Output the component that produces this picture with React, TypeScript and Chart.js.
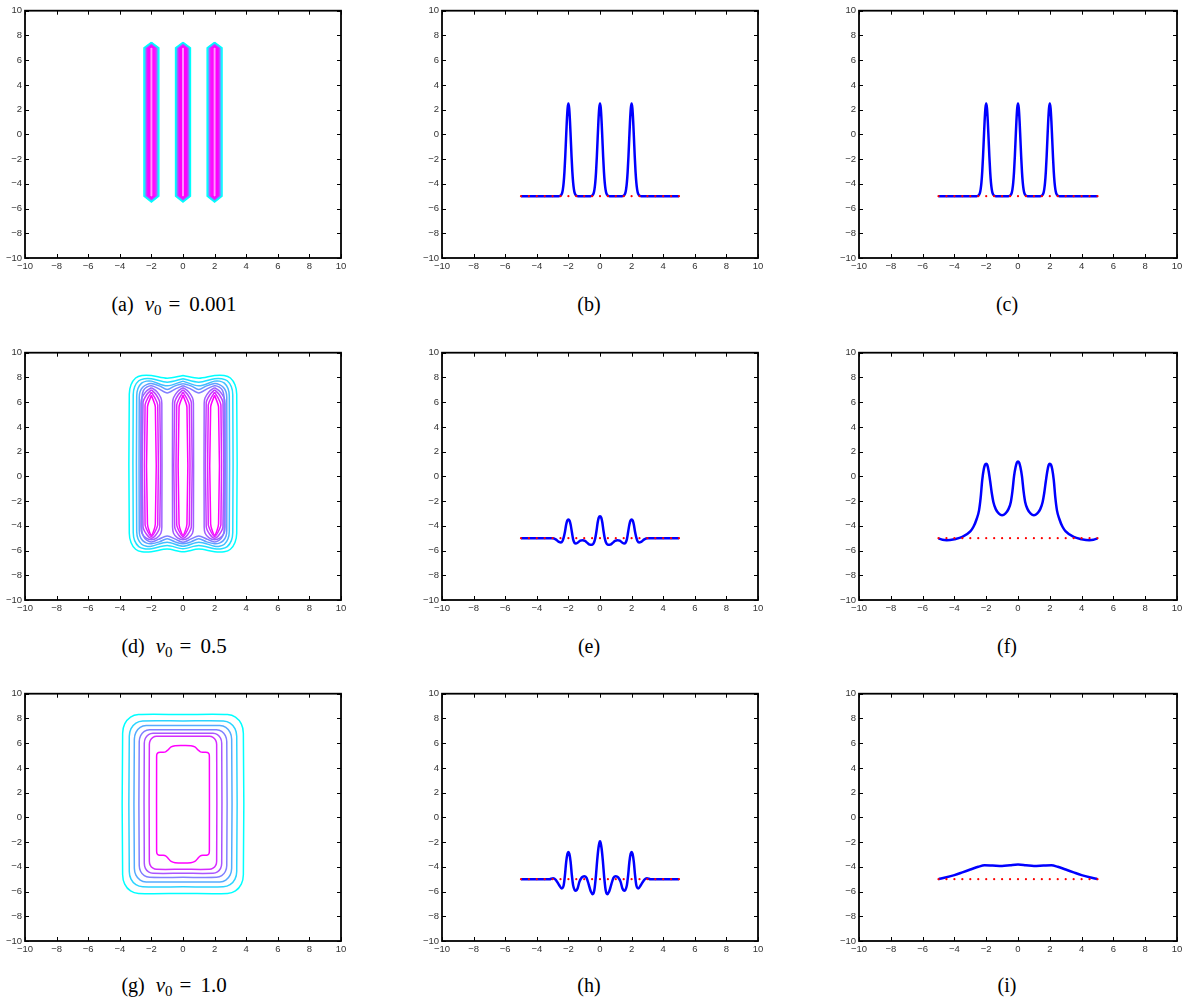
import React, { useEffect, useRef } from 'react';
import { Chart, registerables } from 'chart.js';

Chart.register(...registerables);

// ---------------- data ----------------
const axisMin = -10;
const axisMax = 10;
const axisStep = 2;

// red dotted reference line (markers at y = -5)
const redDotsX = [-5, -4.5, -4, -3.5, -3, -2.5, -2, -1.5, -1, -0.5, 0, 0.5, 1, 1.5, 2, 2.5, 3, 3.5, 4, 4.5, 5];
const redDotsLevel = -5;

// (b) and (c) profile
const bcX = [-5,
  -2.6, -2.5, -2.4, -2.35, -2.3, -2.25, -2.2, -2.15, -2.1, -2.05, -2, -1.95, -1.9, -1.85, -1.8, -1.75, -1.7, -1.65, -1.6, -1.5, -1.4,
  -0.6, -0.5, -0.4, -0.35, -0.3, -0.25, -0.2, -0.15, -0.1, -0.05, 0, 0.05, 0.1, 0.15, 0.2, 0.25, 0.3, 0.35, 0.4, 0.5, 0.6,
  1.4, 1.5, 1.6, 1.65, 1.7, 1.75, 1.8, 1.85, 1.9, 1.95, 2, 2.05, 2.1, 2.15, 2.2, 2.25, 2.3, 2.35, 2.4, 2.5, 2.6,
  5];
const bcY = [-5,
  -5, -4.96, -4.75, -4.45, -3.9, -3.03, -1.81, -0.36, 1.06, 2.11, 2.5, 2.11, 1.06, -0.36, -1.81, -3.03, -3.9, -4.45, -4.75, -4.96, -5,
  -5, -4.96, -4.75, -4.45, -3.9, -3.03, -1.81, -0.36, 1.06, 2.11, 2.5, 2.11, 1.06, -0.36, -1.81, -3.03, -3.9, -4.45, -4.75, -4.96, -5,
  -5, -4.96, -4.75, -4.45, -3.9, -3.03, -1.81, -0.36, 1.06, 2.11, 2.5, 2.11, 1.06, -0.36, -1.81, -3.03, -3.9, -4.45, -4.75, -4.96, -5,
  -5];

// (e) profile
const eX = [-5, -3.2, -3.0, -2.8, -2.6, -2.47, -2.38, -2.3, -2.22, -2.14, -2.07, -2.0, -1.93, -1.86, -1.78, -1.7, -1.6, -1.54, -1.4, -1.25, -1.1, -0.95, -0.8, -0.65, -0.49, -0.38, -0.3, -0.22, -0.15, -0.08,
  0,
  0.08, 0.15, 0.22, 0.3, 0.38, 0.49, 0.65, 0.8, 0.95, 1.1, 1.25, 1.4, 1.54, 1.6, 1.7, 1.78, 1.86, 1.93, 2.0, 2.07, 2.14, 2.22, 2.3, 2.38, 2.47, 2.6, 2.8, 3.0, 3.2, 5];
const eY = [-5, -5, -5.0, -5.1, -5.3, -5.35, -5.25, -4.95, -4.5, -3.9, -3.58, -3.49, -3.58, -3.9, -4.5, -5.1, -5.4, -5.43, -5.35, -5.2, -5.16, -5.22, -5.38, -5.52, -5.54, -5.35, -5.0, -4.4, -3.75, -3.35,
  -3.23,
  -3.35, -3.75, -4.4, -5.0, -5.35, -5.54, -5.52, -5.38, -5.22, -5.16, -5.2, -5.35, -5.43, -5.4, -5.1, -4.5, -3.9, -3.58, -3.49, -3.58, -3.9, -4.5, -4.95, -5.25, -5.35, -5.3, -5.1, -5.0, -5, -5];

// (f) profile
const fX = [-5, -4.75, -4.48, -4.0, -3.5, -3.0, -2.8, -2.6, -2.45, -2.35, -2.25, -2.15, -2.07, -2.0, -1.93, -1.85, -1.75, -1.65, -1.55, -1.4, -1.2, -1.0, -0.8, -0.6, -0.45, -0.35, -0.25, -0.15, -0.07,
  0,
  0.07, 0.15, 0.25, 0.35, 0.45, 0.6, 0.8, 1.0, 1.2, 1.4, 1.55, 1.65, 1.75, 1.85, 1.93, 2.0, 2.07, 2.15, 2.25, 2.35, 2.45, 2.6, 2.8, 3.0, 3.5, 4.0, 4.48, 4.75, 5];
const fY = [-5.02, -5.13, -5.16, -5.08, -4.9, -4.45, -4.08, -3.45, -2.75, -1.75, -0.3, 0.6, 0.95, 1.02, 0.92, 0.45, -0.4, -1.35, -2.07, -2.65, -3.02, -3.15, -3.02, -2.65, -2.07, -1.2, 0.0, 0.75, 1.12,
  1.21,
  1.12, 0.75, 0.0, -1.2, -2.07, -2.65, -3.02, -3.15, -3.02, -2.65, -2.07, -1.35, -0.4, 0.45, 0.92, 1.02, 0.95, 0.6, -0.3, -1.75, -2.75, -3.45, -4.08, -4.45, -4.9, -5.08, -5.16, -5.13, -5.02];

// (h) profile
const hX = [-5, -3.2, -2.97, -2.8, -2.6, -2.42, -2.3, -2.22, -2.14, -2.06, -2.0, -1.94, -1.86, -1.78, -1.7, -1.6, -1.52, -1.42, -1.3, -1.15, -1.0, -0.85, -0.72, -0.58, -0.46, -0.36, -0.27, -0.18, -0.1, -0.04,
  0,
  0.04, 0.1, 0.18, 0.27, 0.36, 0.46, 0.58, 0.72, 0.85, 1.0, 1.15, 1.3, 1.42, 1.52, 1.6, 1.7, 1.78, 1.86, 1.94, 2.0, 2.06, 2.14, 2.22, 2.3, 2.42, 2.6, 2.8, 2.97, 3.2, 5];
const hY = [-5, -5, -4.93, -5.05, -5.45, -5.75, -5.5, -4.7, -3.6, -2.95, -2.8, -2.95, -3.6, -4.7, -5.5, -5.88, -5.94, -5.75, -5.2, -4.85, -4.76, -4.9, -5.4, -6.0, -6.21, -5.9, -4.9, -3.5, -2.5, -2.05,
  -1.94,
  -2.05, -2.5, -3.5, -4.9, -5.9, -6.21, -6.0, -5.4, -4.9, -4.76, -4.85, -5.2, -5.75, -5.94, -5.88, -5.5, -4.7, -3.6, -2.95, -2.8, -2.95, -3.6, -4.7, -5.5, -5.75, -5.45, -5.05, -4.93, -5, -5];

// (i) profile
const iX = [-5, -4.5, -4, -3.5, -3, -2.5, -2.1, -1.6, -1.0, -0.5, 0, 0.5, 1.0, 1.6, 2.1, 2.5, 3, 3.5, 4, 4.5, 5];
const iY = [-5.0, -4.85, -4.67, -4.45, -4.22, -4.0, -3.88, -3.9, -3.93, -3.87, -3.82, -3.87, -3.93, -3.9, -3.88, -4.0, -4.22, -4.45, -4.67, -4.85, -5.0];

// (a) contours: right half of one bar (top tip -> bottom tip), mirrored; one bar per centre
const aBarCentres = [-2, 0, 2];
const aBarHalves = [
  [[0, 7.45], [0.47, 7.0], [0.47, -5.0], [0, -5.47]],
  [[0, 7.39], [0.41, 7.0], [0.41, -5.0], [0, -5.41]],
  [[0, 7.33], [0.35, 7.0], [0.35, -5.0], [0, -5.35]],
  [[0, 7.27], [0.29, 7.0], [0.29, -5.0], [0, -5.29]],
  [[0, 7.21], [0.23, 7.0], [0.23, -5.0], [0, -5.23]],
  [[0, 7.15], [0.17, 7.0], [0.17, -5.0], [0, -5.17]],
  [[0, 7.09], [0.11, 7.0], [0.11, -5.0], [0, -5.11]],
  [[0, 7.03], [0.05, 7.0], [0.05, -5.0], [0, -5.05]],
];
const aBarColors = ['#00ffff', '#46b9ff', '#aa55ff', '#dd22ff', '#ff00ff', '#ff00ff', '#ff00ff', '#ff8cff'];

// (d) merged outer contours (right halves, top centre -> bottom centre)
const dOuterHalves = [
  [[0, 8.15], [1, 7.93], [2, 8.15], [2.6, 8.15], [3.0, 7.95], [3.29, 7.4], [3.4, 6.65], [3.4, -4.6], [3.29, -5.35], [3.0, -5.9], [2.6, -6.1], [2, -6.1], [1, -5.88], [0, -6.1]],
  [[0, 7.9], [1, 7.62], [2, 7.9], [2.45, 7.9], [2.8, 7.73], [3.06, 7.25], [3.15, 6.6], [3.15, -4.55], [3.06, -5.2], [2.8, -5.68], [2.45, -5.85], [2, -5.85], [1, -5.6], [0, -5.85]],
  [[0, 7.7], [1, 7.32], [2, 7.7], [2.31, 7.7], [2.62, 7.54], [2.85, 7.1], [2.93, 6.5], [2.93, -4.45], [2.85, -5.05], [2.62, -5.49], [2.31, -5.65], [2, -5.65], [1, -5.32], [0, -5.65]],
  [[0, 7.5], [0.5, 7.32], [1, 7.02], [1.5, 7.32], [2, 7.5], [2.3, 7.42], [2.55, 7.2], [2.72, 6.85], [2.77, 6.4], [2.77, -4.35], [2.72, -4.85], [2.55, -5.2], [2.3, -5.4], [2, -5.45], [1.5, -5.3], [1, -5.05], [0.5, -5.3], [0, -5.45]],
  [[0, 7.33], [0.45, 7.1], [1, 6.75], [1.55, 7.1], [2, 7.33], [2.3, 7.22], [2.5, 6.95], [2.6, 6.4], [2.6, -4.4], [2.5, -4.85], [2.3, -5.15], [2, -5.3], [1.55, -5.1], [1, -4.82], [0.45, -5.1], [0, -5.33]],
];
const dOuterColors = ['#00ffff', '#20dfff', '#40bfff', '#609fff', '#807fff'];
// (d) inner lobes around each column
const dLobeCentres = [-2, 0, 2];
const dLobeHalves = [
  [[0, 7.18], [0.35, 6.85], [0.6, 6.35], [0.66, 5.9], [0.66, -4.1], [0.6, -4.6], [0.35, -4.98], [0, -5.13]],
  [[0, 7.0], [0.3, 6.6], [0.53, 5.95], [0.53, -4.05], [0.3, -4.7], [0, -5.0]],
  [[0, 6.8], [0.22, 6.35], [0.4, 5.75], [0.4, -3.9], [0.22, -4.5], [0, -4.88]],
  [[0, 6.55], [0.25, 5.6], [0.25, -3.85], [0, -4.76]],
];
const dLobeColors = ['#9f60ff', '#bf40ff', '#df20ff', '#ff00ff'];

// (g) contours
const gHalves = [
  [[0, 8.31], [2.82, 8.31], [3.32, 8.11], [3.69, 7.56], [3.82, 6.81], [3.82, -4.65], [3.69, -5.4], [3.32, -5.95], [2.82, -6.15], [0, -6.15]],
  [[0, 7.8], [2.55, 7.8], [2.98, 7.63], [3.29, 7.18], [3.4, 6.55], [3.4, -4.37], [3.29, -5.0], [2.98, -5.45], [2.55, -5.62], [0, -5.62]],
  [[0, 7.42], [2.33, 7.42], [2.71, 7.27], [2.98, 6.87], [3.08, 6.32], [3.08, -4.12], [2.98, -4.67], [2.71, -5.07], [2.33, -5.22], [0, -5.22]],
  [[0, 7.08], [2.12, 7.08], [2.45, 6.95], [2.68, 6.61], [2.77, 6.13], [2.77, -3.9], [2.68, -4.38], [2.45, -4.72], [2.12, -4.85], [0, -4.85]],
  [[0, 6.8], [1.9, 6.8], [2.18, 6.69], [2.38, 6.4], [2.45, 6.0], [2.45, -3.72], [2.38, -4.12], [2.18, -4.41], [1.9, -4.52], [0, -4.52]],
  [[0, 6.55], [1.68, 6.55], [1.9, 6.46], [2.07, 6.23], [2.13, 5.9], [2.13, -3.55], [2.07, -3.88], [1.9, -4.11], [1.68, -4.2], [0, -4.2]],
  [[0, 5.81], [0.5, 5.79], [0.75, 5.7], [0.95, 5.45], [1.1, 5.3], [1.25, 5.26], [1.55, 5.25], [1.65, 5.12], [1.67, 4.85], [1.67, -2.65], [1.65, -2.92], [1.55, -3.05], [1.25, -3.07], [1.1, -3.12], [0.95, -3.3], [0.75, -3.57], [0.5, -3.67], [0, -3.7]],
];
const gColors = ['#00ffff', '#2bd4ff', '#55aaff', '#8080ff', '#aa55ff', '#d52bff', '#ff00ff'];

// captions
const captionLabels = ['(a)', '(b)', '(c)', '(d)', '(e)', '(f)', '(g)', '(h)', '(i)'];
const captionValues = ['0.001', '', '', '0.5', '', '', '1.0', '', ''];

// ---------------- layout ----------------
const colLeft = [25, 442, 859];
const colRight = [341, 758, 1177];
const rowTop = [10, 352, 693];
const rowBottom = [258, 600, 941];
const captionCentre = [174, 589, 1007];
const captionBaseline = [311, 653, 992];

const PAD_L = 34;
const PAD_T = 8;
const PAD_R = 12;
const PAD_B = 22;

// ---------------- helpers ----------------
type P = { x: number; y: number };
const zip = (xs: number[], ys: number[]): P[] => xs.map((x, i) => ({ x, y: ys[i] }));
const mirrorLoop = (half: number[][], cx: number): P[] => {
  const right = half.map(([x, y]) => ({ x: cx + x, y }));
  const left = half.slice(0, -1).reverse().map(([x, y]) => ({ x: cx - x, y }));
  return [...right, ...left];
};

const contourSet = (pts: P[], color: string, tension: number) => ({
  data: pts,
  showLine: true,
  borderColor: color,
  borderWidth: 1.5,
  pointRadius: 0,
  tension,
  fill: false,
});

const redDots = () => ({
  data: redDotsX.map((x) => ({ x, y: redDotsLevel })),
  showLine: false,
  pointRadius: 1.1,
  pointBackgroundColor: '#ff0000',
  pointBorderWidth: 0,
});

const blueCurve = (xs: number[], ys: number[]) => ({
  data: zip(xs, ys),
  showLine: true,
  borderColor: '#0000ff',
  borderWidth: 2.5,
  pointRadius: 0,
  cubicInterpolationMode: 'monotone',
  fill: false,
});

const panelA = () => {
  const out: any[] = [];
  aBarCentres.forEach((c) => aBarHalves.forEach((h, k) => out.push(contourSet(mirrorLoop(h, c), aBarColors[k], 0))));
  return out;
};
const panelD = () => {
  const out: any[] = [];
  dOuterHalves.forEach((h, k) => out.push(contourSet(mirrorLoop(h, 0), dOuterColors[k], 0.3)));
  dLobeCentres.forEach((c) => dLobeHalves.forEach((h, k) => out.push(contourSet(mirrorLoop(h, c), dLobeColors[k], 0.25))));
  return out;
};
const panelG = () => gHalves.map((h, k) => contourSet(mirrorLoop(h, 0), gColors[k], 0.3));

const panelData: (() => any[])[] = [
  panelA,
  () => [redDots(), blueCurve(bcX, bcY)],
  () => [redDots(), blueCurve(bcX, bcY)],
  panelD,
  () => [redDots(), blueCurve(eX, eY)],
  () => [redDots(), blueCurve(fX, fY)],
  panelG,
  () => [redDots(), blueCurve(hX, hY)],
  () => [redDots(), blueCurve(iX, iY)],
];

const fmtTick = (v: any) => {
  const n = Number(v);
  return n < 0 ? '\u2212' + Math.abs(n) : String(n);
};

const boxPlugin = {
  id: 'matlabBox',
  afterDatasetsDraw(chart: any) {
    const { ctx, chartArea: a, scales } = chart;
    const xs = scales.x;
    const ys = scales.y;
    ctx.save();
    ctx.strokeStyle = '#000';
    ctx.lineWidth = 1;
    const L = 4;
    ctx.beginPath();
    xs.ticks.forEach((t: any) => {
      const px = Math.round(xs.getPixelForValue(t.value)) + 0.5;
      ctx.moveTo(px, a.bottom);
      ctx.lineTo(px, a.bottom - L);
      ctx.moveTo(px, a.top);
      ctx.lineTo(px, a.top + L);
    });
    ys.ticks.forEach((t: any) => {
      const py = Math.round(ys.getPixelForValue(t.value)) + 0.5;
      ctx.moveTo(a.left, py);
      ctx.lineTo(a.left + L, py);
      ctx.moveTo(a.right, py);
      ctx.lineTo(a.right - L, py);
    });
    ctx.stroke();
    ctx.lineWidth = 1.8;
    ctx.strokeRect(a.left, a.top, a.right - a.left, a.bottom - a.top);
    ctx.restore();
  },
};

const tickFont = { family: "'Liberation Sans', Arial, Helvetica, sans-serif", size: 9.5 };

const buildConfig = (datasets: any[]): any => ({
  type: 'scatter',
  data: { datasets },
  options: {
    responsive: false,
    animation: false,
    events: [],
    layout: { padding: { left: 0, top: PAD_T, right: PAD_R, bottom: 0 } },
    plugins: { legend: { display: false }, tooltip: { enabled: false } },
    scales: {
      x: {
        type: 'linear',
        min: axisMin,
        max: axisMax,
        ticks: { stepSize: axisStep, autoSkip: false, maxRotation: 0, padding: 3, color: '#333', font: tickFont, callback: fmtTick },
        grid: { display: false, drawTicks: false },
        border: { display: false },
        afterFit: (s: any) => { s.height = PAD_B; },
      },
      y: {
        type: 'linear',
        min: axisMin,
        max: axisMax,
        ticks: { stepSize: axisStep, autoSkip: false, padding: 3, color: '#333', font: tickFont, callback: fmtTick },
        grid: { display: false, drawTicks: false },
        border: { display: false },
        afterFit: (s: any) => { s.width = PAD_L; },
      },
    },
  },
  plugins: [boxPlugin],
});

function Panel({ idx }: { idx: number }) {
  const ref = useRef<HTMLCanvasElement>(null);
  const col = idx % 3;
  const row = Math.floor(idx / 3);
  const left = colLeft[col] - PAD_L;
  const top = rowTop[row] - PAD_T;
  const width = colRight[col] - colLeft[col] + PAD_L + PAD_R;
  const height = rowBottom[row] - rowTop[row] + PAD_T + PAD_B;
  useEffect(() => {
    const chart = new Chart(ref.current as HTMLCanvasElement, buildConfig(panelData[idx]()));
    return () => chart.destroy();
  }, [idx]);
  return (
    <canvas
      ref={ref}
      width={width}
      height={height}
      style={{ position: 'absolute', left, top, width, height }}
    />
  );
}

function Caption({ idx }: { idx: number }) {
  const col = idx % 3;
  const row = Math.floor(idx / 3);
  const value = captionValues[idx];
  return (
    <div
      style={{
        position: 'absolute',
        left: captionCentre[col] - 150,
        width: 300,
        top: captionBaseline[row] - 16.75,
        textAlign: 'center',
        fontFamily: "'Liberation Serif', 'Times New Roman', serif",
        fontSize: 20,
        lineHeight: '20px',
        whiteSpace: 'nowrap',
        color: '#000',
      }}
    >
      {captionLabels[idx]}
      {value ? (
        <span style={{ marginLeft: 11, fontSize: 21 }}>
          <i>v</i>
          <span style={{ fontSize: 15, position: 'relative', top: 4 }}>0</span>
          <span style={{ marginLeft: 7, marginRight: 9 }}>=</span>
          {value}
        </span>
      ) : null}
    </div>
  );
}

export default function App() {
  const idxs = [0, 1, 2, 3, 4, 5, 6, 7, 8];
  return (
    <div style={{ position: 'fixed', left: 0, top: 0, width: 1185, height: 1002, background: '#fff', overflow: 'hidden' }}>
      {idxs.map((i) => (
        <Panel key={'p' + i} idx={i} />
      ))}
      {idxs.map((i) => (
        <Caption key={'c' + i} idx={i} />
      ))}
    </div>
  );
}
